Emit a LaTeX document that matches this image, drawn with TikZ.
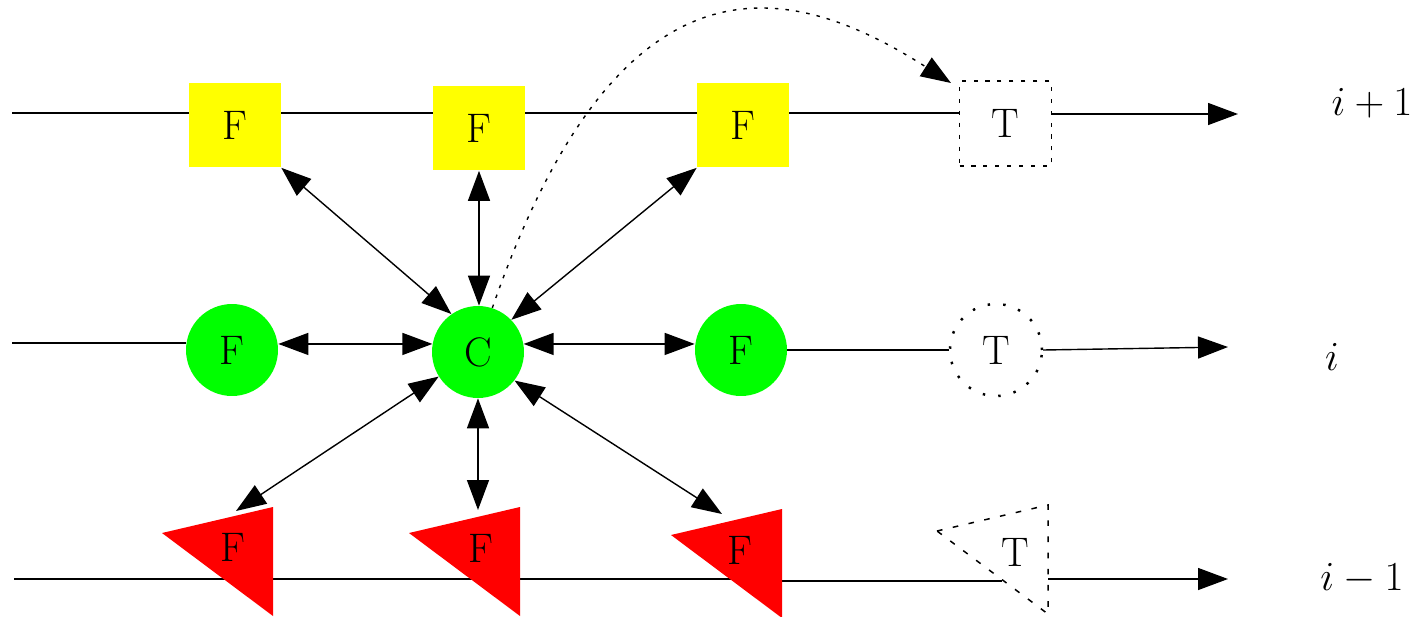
\RequirePackage{fix-cm}
\documentclass[tikz,border=0pt]{standalone}
\usepackage{fontspec}
\usetikzlibrary{arrows.meta,backgrounds}
\definecolor{fyel}{RGB}{255,255,0}
\definecolor{fgrn}{RGB}{0,255,0}
\definecolor{fred}{RGB}{255,0,0}
\begin{document}
\begin{tikzpicture}[x=0.02cm,y=-0.02cm,
  font=\fontsize{23.5}{28}\selectfont,
  ln/.style={line width=0.8pt},
  arr/.style={-{Triangle[length=0.6cm,width=0.44cm]}},
  darr/.style={{Triangle[length=0.6cm,width=0.44cm]}-{Triangle[length=0.6cm,width=0.44cm]}},
  fbox/.style={rectangle, fill=fyel, minimum width=1.84cm, minimum height=1.7cm, inner sep=0},
  tbox/.style={rectangle, draw, line width=0.85pt, dash pattern=on 2.3pt off 4.5pt, minimum width=1.84cm, minimum height=1.7cm, inner sep=0},
  fcirc/.style={circle, fill=fgrn, minimum size=1.84cm, inner sep=0},
  tcirc/.style={circle, draw, line width=1.4pt, dash pattern=on 1.4pt off 7.5pt, minimum size=1.84cm, inner sep=0},
  redtri/.pic={\fill[fred] (-71,-14) -- (40,-40) -- (40,69) -- cycle;},
  dashtri/.pic={\draw[line width=0.85pt, dash pattern=on 3.2pt off 6pt] (-71,-14) -- (40,-40) -- (40,69) -- cycle;},
  dotcurve/.style={line width=0.8pt, dash pattern=on 2pt off 4pt},
]
\useasboundingbox (0,0) rectangle (1418,616);
\clip (0,0) rectangle (1418,616);

% top row
\node[fbox] (f1) at (235,125) {F};
\node[fbox] (f2) at (479,128) {F};
\node[fbox] (f3) at (743,125) {F};
\node[tbox] (tt) at (1005.5,123.5) {T};

% middle row
\node[fcirc] (m1) at (232,350) {F};
\node[fcirc] (c) at (478,352) {C};
\node[fcirc] (m3) at (741,350) {F};
\node[tcirc] (tm) at (996,350) {T};

% bottom row
\pic at (233,547) {redtri};
\pic at (480,547) {redtri};
\pic at (742,549) {redtri};
\pic at (1008,545) {dashtri};
\node (b1) at (233,547) {F};
\node (b2) at (481,548) {F};
\node (b3) at (740,550) {F};
\node (bt) at (1015,552) {T};

% labels
\node (l1) at (1372,103) {$i+1$};
\node (l2) at (1332,357) {$i$};
\node (l3) at (1362,579) {$i-1$};

% coordinates
\coordinate (s1) at (12,113);
\coordinate (e1) at (1238,114);
\coordinate (s2) at (12,343);
\coordinate (e2) at (1228,347);
\coordinate (s3) at (14,579);
\coordinate (b3w) at (733,579);
\coordinate (b3e) at (782,581);
\coordinate (bTw) at (1002,581);
\coordinate (bTe) at (1048,579);
\coordinate (e3) at (1228,579);
\coordinate (a1) at (236,511);
\coordinate (a2) at (479,510);
\coordinate (a3) at (722,514);
\coordinate (a4) at (951,83);

\begin{scope}[on background layer]
  \draw[ln] (s1) -- (s1 -| f1.west);
  \draw[ln] (f1.east |- s1) -- (f2.west |- s1);
  \draw[ln] (f2.east |- s1) -- (f3.west |- s1);
  \draw[ln] (f3.east |- s1) -- (tt.west |- s1);
  \draw[ln] (s2) -- (s2 -| m1.west);
  \draw[ln] (m3.east) -- (tm.west);
  \draw[ln] (s3) -- (b3w);
  \draw[ln] (b3e) -- (bTw);
\end{scope}

\draw[ln,arr] (tt.east |- e1) -- (e1);
\draw[ln,arr] (tm.east) -- (e2);
\draw[ln,arr] (bTe) -- (e3);

\draw[ln,darr] (c.170) -- (c.170 -| m1.east);
\draw[ln,darr] (c.10) -- (c.10 -| m3.west);
\draw[ln,darr] (f1.south east) -- (c.125);
\draw[ln,darr] (f2.south) -- (f2.south |- c.north);
\draw[ln,darr] (f3.south west) -- (c.44);
\draw[ln,darr] (c.212) -- (a1);
\draw[ln,darr] (c.south) -- (c.south |- a2);
\draw[ln,darr] (c.-38) -- (a3);

\draw[dotcurve,arr] (c.72) .. controls (620,-60) and (790,-20) .. (a4);
\end{tikzpicture}
\end{document}
